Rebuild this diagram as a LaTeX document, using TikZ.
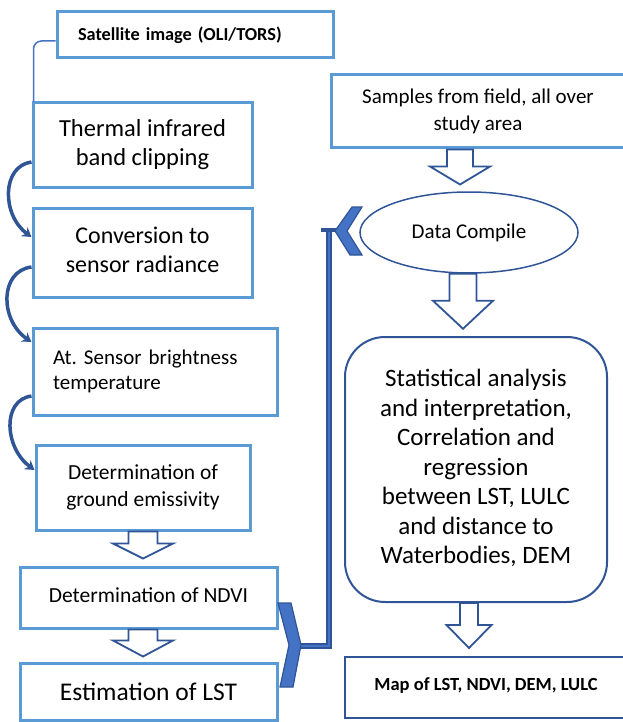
\documentclass[tikz,border=0pt]{standalone}
\usepackage{fontspec}
\setmainfont{Carlito}
\usetikzlibrary{arrows.meta,shapes.geometric,calc}
\definecolor{lblue}{HTML}{5B9BD5}
\definecolor{dblue}{HTML}{2F5597}
\definecolor{mblue}{HTML}{4472C4}
\newcommand{\clines}[2]{\raisebox{#1}{\begin{tabular}{@{}c@{}}#2\end{tabular}}}
\newcommand{\llines}[2]{\raisebox{#1}{\begin{tabular}{@{}l@{}}#2\end{tabular}}}
\frenchspacing
\begin{document}
\begin{tikzpicture}[x=1pt,y=-1pt,
  lbox/.style={draw=lblue, line width=3pt, inner sep=0pt, align=center, text=black},
  dbox/.style={draw=dblue, line width=2.5pt, inner sep=0pt, align=center, text=black},
  curv/.style={draw=dblue, line width=3.5pt, -{Stealth[length=9pt,width=11pt]}},
  link/.style={draw=dblue, double=mblue, line width=2pt, double distance=2pt},
  chev/.style={fill=mblue, draw=dblue, line width=1.2pt, line join=miter},
  pics/barrow/.style n args={4}{code={
    \draw[dblue, line width=1.8pt, fill=white, line join=miter]
      (-#1,0) -- (-#1,#3) -- (-#2,#3) -- (0,#3+#4) -- (#2,#3) -- (#1,#3) -- (#1,0) -- cycle;}}
]
\useasboundingbox (0,0) rectangle (622,722);

% left column
\node[lbox, minimum width=276pt, minimum height=46pt, text width=234pt, align=left,
      font=\fontsize{18.3}{21}\selectfont\bfseries] (sat) at (195,35) {Satellite image (OLI/TORS)};
\node[lbox, minimum width=219pt, minimum height=84pt, font=\fontsize{24.5}{29}\selectfont] (thermal) at (142.5,145) {\clines{0pt}{Thermal infrared\\band clipping}};
\node[lbox, minimum width=219pt, minimum height=89pt, font=\fontsize{24}{29}\selectfont] (conv) at (142.5,252.5) {\clines{1pt}{Conversion to\\sensor radiance}};
\node[lbox, minimum width=244pt, minimum height=87pt, text width=204pt, align=left, font=\fontsize{21}{25}\selectfont] (atsensor) at (155,371.5) {\llines{3pt}{At. Sensor brightness\\temperature}};
\node[lbox, minimum width=214pt, minimum height=85pt, font=\fontsize{21.5}{27}\selectfont] (emis) at (143,487.5) {\clines{1pt}{Determination of\\ground emissivity}};
\node[lbox, minimum width=257pt, minimum height=61pt, font=\fontsize{21.5}{24}\selectfont] (ndvi) at (148.5,597.5) {\raisebox{5pt}{Determination of NDVI}};
\node[lbox, minimum width=257pt, minimum height=57pt, font=\fontsize{25.5}{28}\selectfont] (lst) at (148.5,691.5) {Estimation of LST};

% right column
\node[lbox, minimum width=294pt, minimum height=73pt, font=\fontsize{21}{27}\selectfont] (samples) at (478,111.5) {\clines{-4pt}{Samples from field, all over\\study area}};
\node[draw=dblue, line width=1.5pt, ellipse, minimum width=218pt, minimum height=81pt, inner sep=0pt,
      font=\fontsize{21}{24}\selectfont] (data) at (469,232.5) {\raisebox{3pt}{Data Compile}};
\node[draw=dblue, line width=2pt, rounded corners=40pt, minimum width=262pt, minimum height=265pt, inner sep=0pt, align=center,
      font=\fontsize{25}{29.5}\selectfont] (stat) at (476,469.5) {\clines{2pt}{Statistical analysis\\and interpretation,\\Correlation and\\regression\\between LST, LULC\\and distance to\\Waterbodies, DEM}};
\node[dbox, minimum width=282pt, minimum height=61pt, font=\fontsize{18.5}{21}\selectfont\bfseries] (map) at (486,687.5) {\raisebox{6pt}{Map of LST, NDVI, DEM, LULC}};

% connectors
\draw[mblue, line width=1.5pt, rounded corners=8pt] ([yshift=-6pt]sat.west) -| ([xshift=2pt]thermal.north west);

\draw[curv] ([yshift=-17pt]thermal.west) .. controls +(-30,4) and +(-30,-22) .. ([yshift=15.5pt]conv.west);
\draw[curv] ([yshift=-14.5pt]conv.west) .. controls +(-32,4) and +(-32,-22) .. ([yshift=29.5pt]atsensor.west);
\draw[curv] ([yshift=-24.5pt]atsensor.west) .. controls +(-30,4) and +(-30,-22) .. ([yshift=17.5pt]emis.west);

% block arrows
\pic at ([xshift=-18pt]samples.south) {barrow={13}{30}{17}{18}};
\pic at ([xshift=-6pt]data.south) {barrow={13.5}{30}{27}{28}};
\pic at ([xshift=-7pt]stat.south) {barrow={9}{22.5}{22}{23}};
\pic at (emis.south) {barrow={14.5}{30}{12}{15}};
\pic at ([xshift=-5.5pt]ndvi.south) {barrow={14.5}{30}{11}{16}};

% bracket link from NDVI/LST to Data Compile
\coordinate (chevR) at (297,646);
\coordinate (colTop) at (328.5,230);
\draw[link] (chevR) -| (colTop);
\draw[dblue, line width=3.5pt] ([xshift=-8pt]colTop) -- ([xshift=8pt]colTop);
\draw[chev] (278,603) -- (291,603) -- (301,645) -- (293,687) -- (280,687) -- (289,645) -- cycle;
\draw[chev] (362,207) -- (352,207) -- (335,231) -- (350,255) -- (362,255) -- (347,231) -- cycle;
\end{tikzpicture}
\end{document}
